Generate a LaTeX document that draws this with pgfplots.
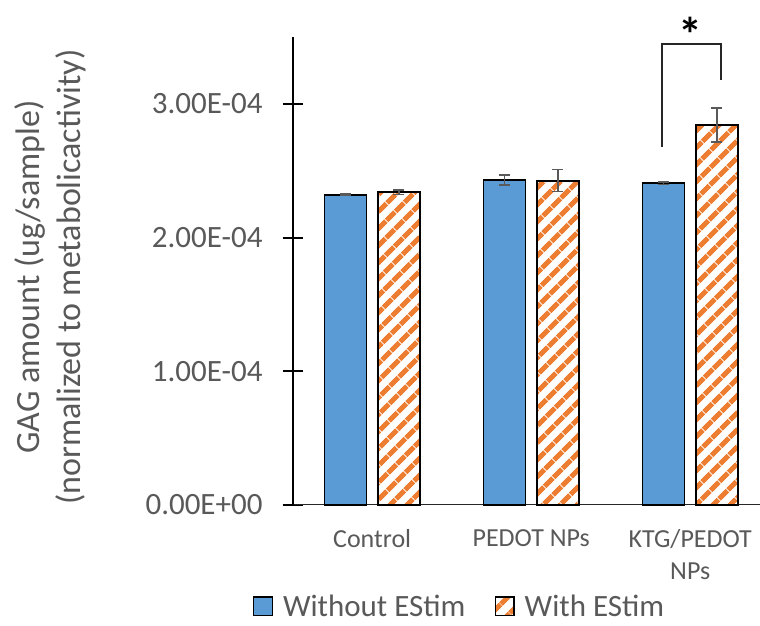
\documentclass[border=0pt]{standalone}
\usepackage{fontspec}
\setmainfont{Carlito}
\usepackage{pgfplots}
\pgfplotsset{compat=1.18}
\usetikzlibrary{patterns.meta}
\definecolor{xlblue}{HTML}{5B9BD5}
\definecolor{xlorange}{HTML}{ED7D31}
\definecolor{xlgray}{HTML}{595959}
\begin{document}
\begin{tikzpicture}
\path[use as bounding box] (0,0) rectangle (760pt,626pt);
\begin{axis}[
  at={(292.7pt,121pt)}, anchor=south west,
  scale only axis, width=467.3pt, height=468pt,
  xmin=-0.5, xmax=2.439, ymin=0, ymax=3.5e-4,
  clip=false,
  axis x line=bottom, axis y line=left,
  x axis line style={-, line width=1pt, black!85},
  y axis line style={-, line width=2pt, black},
  xtick={0,1,2}, xticklabels={Control, PEDOT NPs, {KTG/PEDOT\\NPs}},
  major x tick style={draw=none},
  ytick={0,1e-4,2e-4,3e-4},
  yticklabels={0.00E+00,1.00E-04,2.00E-04,3.00E-04},
  scaled y ticks=false,
  tick align=center, major tick length=20pt,
  major y tick style={line width=2pt, black},
  yticklabel style={font=\fontsize{31}{37}\selectfont, text=xlgray, anchor=east, inner sep=0pt, xshift=-20pt},
  xticklabel style={font=\fontsize{26}{32}\selectfont, text=xlgray, align=center, anchor=north, inner sep=0pt, yshift=-14pt},
  ylabel={GAG amount (ug/sample)\\(normalized to metabolicactivity)},
  ylabel style={font=\fontsize{34}{41}\selectfont, text=xlgray, align=center, at={(axis description cs:-0.519,0.487)}, anchor=center},
  legend columns=2,
  legend style={at={(axis description cs:0.357,-0.216)}, anchor=center, draw=none, fill=none,
    font=\fontsize{31}{37}\selectfont, text=xlgray, nodes={text depth=0pt},
    /tikz/every odd column/.append style={column sep=8pt},
    /tikz/every even column/.append style={column sep=27pt}},
  legend cell align=left,
  legend image code/.code={\draw[#1, line width=1.5pt] (0pt,-9.3pt) rectangle (18.7pt,9.3pt);},
  bar width=42pt,
]
\addplot[ybar, bar shift=0pt, fill=xlblue, draw=black, line width=1.8pt,
  error bars/.cd, y dir=both, y explicit,
  error bar style={line width=1.5pt, xlgray},
  error mark options={rotate=90, mark size=5.5pt, line width=1.5pt, xlgray}]
  coordinates {(-0.1676,2.321e-4) +- (0,0.6e-6) (0.8324,2.431e-4) +- (0,3.7e-6) (1.8324,2.406e-4) +- (0,0.9e-6)};
\addlegendentry{Without EStim}
\addplot[ybar, bar shift=0pt, draw=black, line width=1.8pt,
  pattern={Lines[angle=45, distance=13pt, line width=5.5pt]}, pattern color=xlorange,
  error bars/.cd, y dir=both, y explicit,
  error bar style={line width=1.5pt, xlgray},
  error mark options={rotate=90, mark size=5.5pt, line width=1.5pt, xlgray}]
  coordinates {(0.1676,2.339e-4) +- (0,1.75e-6) (1.1676,2.426e-4) +- (0,8.2e-6) (2.1676,2.842e-4) +- (0,12.7e-6)};
\addlegendentry{With EStim}
\draw[line width=2pt, black!85] (axis cs:1.822,2.68e-4) -- (axis cs:1.822,3.448e-4) -- (axis cs:2.195,3.448e-4) -- (axis cs:2.195,3.179e-4);
\node[font=\bfseries\fontsize{48}{52}\selectfont] at (axis cs:2.004,3.52e-4) {*};
\end{axis}
\end{tikzpicture}
\end{document}
